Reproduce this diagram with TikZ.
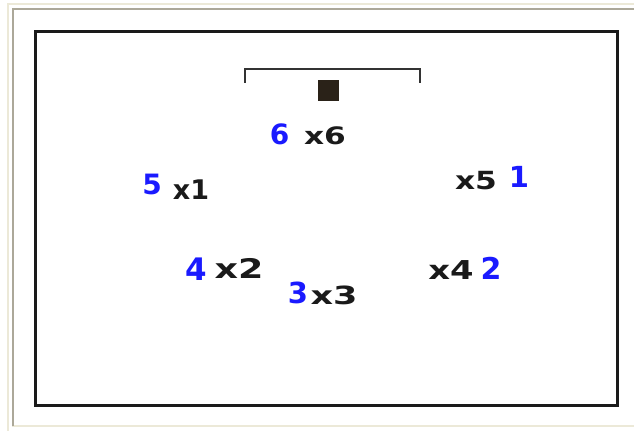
\documentclass[tikz,border=0pt]{standalone}
\usepackage{fontspec}
\newfontfamily\labfont{DejaVu Sans}
\definecolor{beige}{HTML}{ECE9D8}
\definecolor{grayline}{HTML}{ACA899}
\definecolor{numblue}{HTML}{1A1AFF}
\definecolor{ink}{HTML}{1A1A1A}
\definecolor{bracketgray}{HTML}{333333}
\definecolor{blockbrown}{HTML}{2A2218}
\tikzset{
  bluenum/.style={inner sep=0pt, text=numblue, font=\labfont\bfseries\fontsize{#1}{#1}\selectfont},
  blacklab/.style={inner sep=0pt, text=ink, font=\labfont\bfseries\fontsize{#1}{#1}\selectfont},
}
\newcommand{\widelab}[2]{\scalebox{#1}[1]{#2}}
\begin{document}
\begin{tikzpicture}[x=1pt,y=1pt]
\useasboundingbox (0,0) rectangle (634,431);
\fill[white] (0,0) rectangle (634,431);
% window frame lines
\draw[beige, line width=2pt] (634,427) -- (7.5,427) -- (7.5,0);
\draw[beige, line width=2pt] (12,5) -- (634,5);
\draw[grayline, line width=2pt] (634,421.5) -- (12.5,421.5) -- (12.5,5);
% black box
\draw[ink, line width=3pt] (35.5,399.5) rectangle (617.5,26);
% bracket and block
\draw[bracketgray, line width=2.2pt] (245,348) -- (245,362) -- (420,362) -- (420,348);
\fill[blockbrown] (318,330) rectangle (339,351);
% labels
\node[bluenum=28] (b6) at (279.5,296.5) {6};
\node[blacklab=24] (t6) at (325,295) {\widelab{1.3}{x6}};
\node[bluenum=28] (b5) at (152,247) {5};
\node[blacklab=27] (t1) at (191,241) {\widelab{1.0}{x1}};
\node[blacklab=25] (t5) at (476,250) {\widelab{1.25}{x5}};
\node[bluenum=29] (b1) at (519,254) {1};
\node[bluenum=31] (b4) at (196,162) {4};
\node[blacklab=27] (t2) at (239,163) {\widelab{1.35}{x2}};
\node[blacklab=26] (t4) at (451,161) {\widelab{1.3}{x4}};
\node[bluenum=30] (b2) at (491,163) {2};
\node[bluenum=29] (b3) at (298,138) {3};
\node[blacklab=25] (t3) at (334,136) {\widelab{1.4}{x3}};
\end{tikzpicture}
\end{document}
